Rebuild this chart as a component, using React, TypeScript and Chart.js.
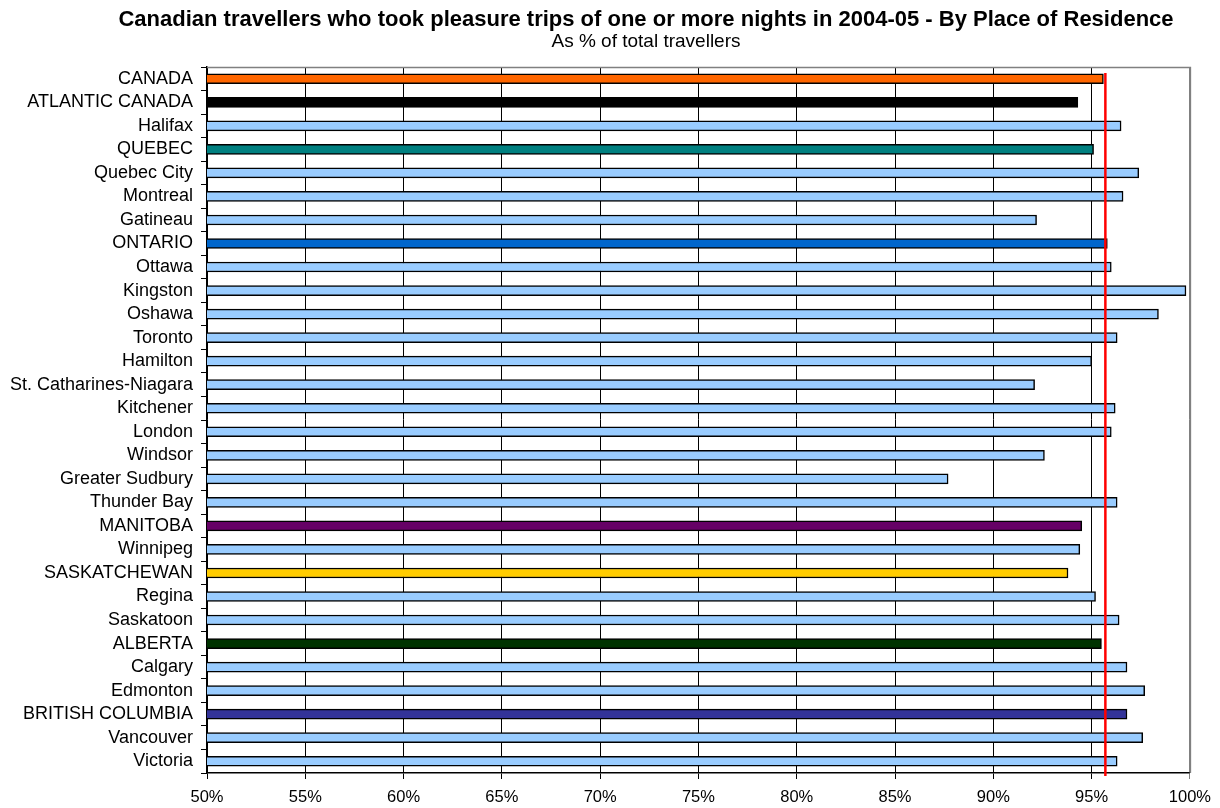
import React, { useEffect, useRef } from "react";
import { Chart, registerables } from "chart.js";

Chart.register(...registerables);

const categories = [
  "CANADA", "ATLANTIC CANADA", "Halifax", "QUEBEC", "Quebec City", "Montreal", "Gatineau",
  "ONTARIO", "Ottawa", "Kingston", "Oshawa", "Toronto", "Hamilton", "St. Catharines-Niagara",
  "Kitchener", "London", "Windsor", "Greater Sudbury", "Thunder Bay", "MANITOBA", "Winnipeg",
  "SASKATCHEWAN", "Regina", "Saskatoon", "ALBERTA", "Calgary", "Edmonton", "BRITISH COLUMBIA",
  "Vancouver", "Victoria",
];

const values = [
  95.6, 94.3, 96.5, 95.1, 97.4, 96.6, 92.2,
  95.8, 96.0, 99.8, 98.4, 96.3, 95.0, 92.1,
  96.2, 96.0, 92.6, 87.7, 96.3, 94.5, 94.4,
  93.8, 95.2, 96.4, 95.5, 96.8, 97.7, 96.8,
  97.6, 96.3,
];

const barColors = [
  "#FF6600", "#000000", "#99CCFF", "#008080", "#99CCFF", "#99CCFF", "#99CCFF",
  "#0066CC", "#99CCFF", "#99CCFF", "#99CCFF", "#99CCFF", "#99CCFF", "#99CCFF",
  "#99CCFF", "#99CCFF", "#99CCFF", "#99CCFF", "#99CCFF", "#660066", "#99CCFF",
  "#FFCC00", "#99CCFF", "#99CCFF", "#003300", "#99CCFF", "#99CCFF", "#333399",
  "#99CCFF", "#99CCFF",
];

const canadaAverage = 95.7;
const xMin = 50;
const xMax = 100;
const xStep = 5;

const titleText = "Canadian travellers who took pleasure trips of one or more nights in 2004-05 - By Place of Residence";
const subtitleText = "As % of total travellers";

const FONT = "Arial, 'Liberation Sans', sans-serif";

export default function App() {
  const canvasRef = useRef<HTMLCanvasElement | null>(null);

  useEffect(() => {
    document.body.style.margin = "0";
    const canvas = canvasRef.current;
    if (!canvas) return;

    const decorPlugin = {
      id: "decor",
      beforeDatasetsDraw(chart: any) {
        const { ctx, chartArea } = chart;
        ctx.save();
        ctx.strokeStyle = "#808080";
        ctx.lineWidth = 1.5;
        ctx.beginPath();
        ctx.moveTo(chartArea.left, chartArea.top + 0.5);
        ctx.lineTo(chartArea.right + 0.5, chartArea.top + 0.5);
        ctx.lineTo(chartArea.right + 0.5, chartArea.bottom);
        ctx.stroke();
        ctx.restore();
      },
      afterDatasetsDraw(chart: any) {
        const { ctx, chartArea, scales } = chart;
        const x = scales.x.getPixelForValue(canadaAverage);
        ctx.save();
        ctx.strokeStyle = "#FF0000";
        ctx.lineWidth = 2.5;
        ctx.beginPath();
        ctx.moveTo(x, chartArea.top + 6);
        ctx.lineTo(x, chartArea.bottom + 3);
        ctx.stroke();
        ctx.restore();
      },
      afterDraw(chart: any) {
        const { ctx } = chart;
        const cx = chart.width / 2 + 36;
        ctx.save();
        ctx.fillStyle = "#000000";
        ctx.textAlign = "center";
        ctx.textBaseline = "middle";
        ctx.font = `bold 22px ${FONT}`;
        ctx.fillText(titleText, cx, 20);
        ctx.font = `19px ${FONT}`;
        ctx.fillText(subtitleText, cx, 42);
        ctx.restore();
      },
    };

    const chart = new Chart(canvas, {
      type: "bar",
      data: {
        labels: categories,
        datasets: [
          {
            data: values,
            backgroundColor: barColors,
            borderColor: "#000000",
            borderWidth: 1.5,
            borderSkipped: false,
            barThickness: 10,
          },
        ],
      },
      options: {
        indexAxis: "y",
        animation: false,
        responsive: false,
        maintainAspectRatio: false,
        layout: { padding: { left: 0, right: 29, top: 67, bottom: 0 } },
        plugins: {
          legend: { display: false },
          tooltip: { enabled: false },
          title: { display: false },
          subtitle: { display: false },
        },
        scales: {
          x: {
            type: "linear",
            min: xMin,
            max: xMax,
            ticks: {
              stepSize: xStep,
              color: "#000000",
              font: { family: FONT, size: 16.5 },
              padding: 9,
              maxRotation: 0,
              callback: (v: any) => `${v}%`,
            },
            grid: {
              color: (c: any) => (c.tick && c.tick.value === xMax ? "#808080" : "#000000"),
              lineWidth: 1,
              tickLength: 6,
            },
            border: { display: true, color: "#000000", width: 1.5 },
            afterFit: (scale: any) => {
              scale.height = 35;
            },
          },
          y: {
            type: "category",
            ticks: {
              color: "#000000",
              font: { family: FONT, size: 18 },
              padding: 8,
              autoSkip: false,
            },
            grid: {
              display: true,
              drawOnChartArea: false,
              color: "#000000",
              tickLength: 6,
              offset: true,
            },
            border: { display: true, color: "#000000", width: 1.5 },
            afterFit: (scale: any) => {
              scale.width = 207;
            },
          },
        },
      },
      plugins: [decorPlugin],
    } as any);

    return () => chart.destroy();
  }, []);

  return <canvas ref={canvasRef} width={1220} height={808} style={{ display: "block" }} />;
}
